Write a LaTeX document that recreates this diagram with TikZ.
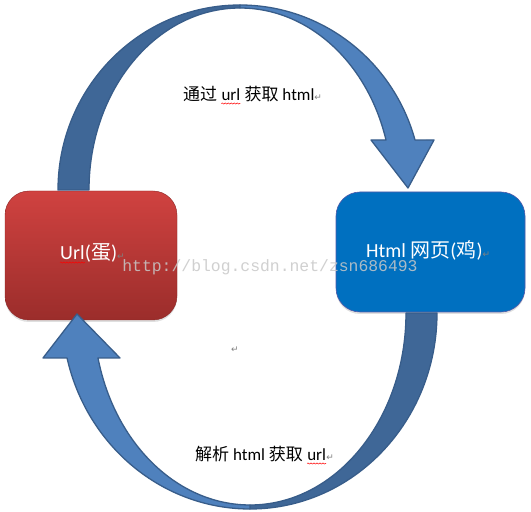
\documentclass[tikz,border=0pt]{standalone}
\usepackage{fontspec}
\setmainfont{Carlito}
\newfontfamily\cjk{Noto Sans CJK SC}
\newfontfamily\symfont{DejaVu Sans}
\newfontfamily\wmfont{Liberation Mono}
\usetikzlibrary{decorations.pathmorphing,shadows}
\definecolor{arrowdark}{RGB}{63,103,151}
\definecolor{arrowlight}{RGB}{79,129,189}
\definecolor{arrowline}{RGB}{56,93,138}
\definecolor{redtop}{RGB}{208,66,64}
\definecolor{redbot}{RGB}{155,45,43}
\definecolor{boxblue}{RGB}{0,112,192}
\definecolor{pmark}{RGB}{128,128,128}
\definecolor{wmgray}{RGB}{200,200,200}
\newcommand\retmark{{\symfont\fontsize{9}{9}\selectfont\color{pmark}↵}}
\newcommand\wsp{\kern0.23em}
\tikzset{
  darkpart/.style={fill=arrowdark,draw=arrowline,line width=1.3pt,line join=round},
  lightpart/.style={fill=arrowlight,draw=arrowline,line width=1.3pt,line join=round},
  redbox/.style={rounded corners=24pt,top color=redtop,bottom color=redbot,draw=redbot!90!black,line width=0.4pt,
    drop shadow={opacity=0.25,shadow xshift=0pt,shadow yshift=-2pt}},
  bluebox/.style={rounded corners=24pt,fill=boxblue,draw={rgb,255:red,80;green,90;blue,170},line width=0.6pt,
    drop shadow={opacity=0.25,shadow xshift=0pt,shadow yshift=-2pt}},
  boxtext/.style={text=white,font=\fontsize{20}{24}\selectfont,inner sep=0pt,anchor=base west},
  lbl/.style={text=black,font=\fontsize{17}{20}\selectfont,inner sep=0pt,anchor=base west},
  squiggle/.style={red,line width=0.5pt,decorate,decoration={snake,amplitude=0.6pt,segment length=3pt}},
  wm/.style={text=wmgray,opacity=0.85,font=\wmfont\fontsize{16.4}{18}\selectfont,inner sep=0pt}
}
\begin{document}
\begin{tikzpicture}[x=1pt,y=1pt]
\useasboundingbox (0,0) rectangle (531,512);
\fill[white] (0,0) rectangle (531,512);
% boxes
\node[redbox,minimum width=172pt,minimum height=129pt] (url) at (91,256.5) {};
\node[bluebox,minimum width=189pt,minimum height=120pt] (html) at (430.5,260) {};
% box texts
\node[boxtext] (urla) at (60,252) {Url};
\node[boxtext] (urlb) at (urla.base east) {({\cjk 蛋})\retmark};
\draw[squiggle] ([yshift=-2.5pt]urla.base west) -- ([yshift=-2.5pt]urla.base east);
\node[boxtext] (htmltxt) at (366,254) {Html {\cjk 网页}({\cjk 鸡})\retmark};
% top curved arrow (url -> html)
\path[darkpart] (58,322) arc[start angle=180,end angle=90,x radius=182,y radius=185]
  -- (240,504) arc[start angle=90,end angle=180,x radius=151,y radius=182] -- cycle;
\path[lightpart] (240,507) arc[start angle=90,end angle=15.68,x radius=181.8,y radius=185]
  -- (434,372) -- (408,324) -- (371,372) -- (386,372)
  arc[start angle=15.95,end angle=90,x radius=151.8,y radius=182] -- cycle;
% bottom curved arrow (html -> url)
\path[darkpart] (437,199) arc[start angle=0,end angle=-90,x radius=187,y radius=196]
  -- (250,7) arc[start angle=-90,end angle=0,x radius=156,y radius=192] -- cycle;
\path[lightpart] (250,3) arc[start angle=-90,end angle=-166.73,x radius=188,y radius=196]
  -- (43,154) -- (77,198) -- (120,154) -- (98,154)
  arc[start angle=-166.44,end angle=-90,x radius=156.4,y radius=192] -- cycle;
% top label
\node[lbl] (ta) at (183,411) {{\cjk 通过}\wsp};
\node[lbl] (tu) at (ta.base east) {url};
\node[lbl] (tb) at (tu.base east) {\wsp{\cjk 获取}\wsp html\retmark};
\draw[squiggle] ([yshift=-2.5pt]tu.base west) -- ([yshift=-2.5pt]tu.base east);
% bottom label
\node[lbl] (ba) at (195,51) {{\cjk 解析}\wsp html\wsp{\cjk 获取}\wsp};
\node[lbl] (bu) at (ba.base east) {url};
\node[lbl] (bb) at (bu.base east) {\retmark};
\draw[squiggle] ([yshift=-2.5pt]bu.base west) -- ([yshift=-2.5pt]bu.base east);
% stray paragraph mark
\node[lbl,anchor=center] (midmark) at (235,162) {\retmark};
% watermark
\node[wm] (watermark) at (270,245) {http://blog.csdn.net/zsn686493};
\end{tikzpicture}
\end{document}
